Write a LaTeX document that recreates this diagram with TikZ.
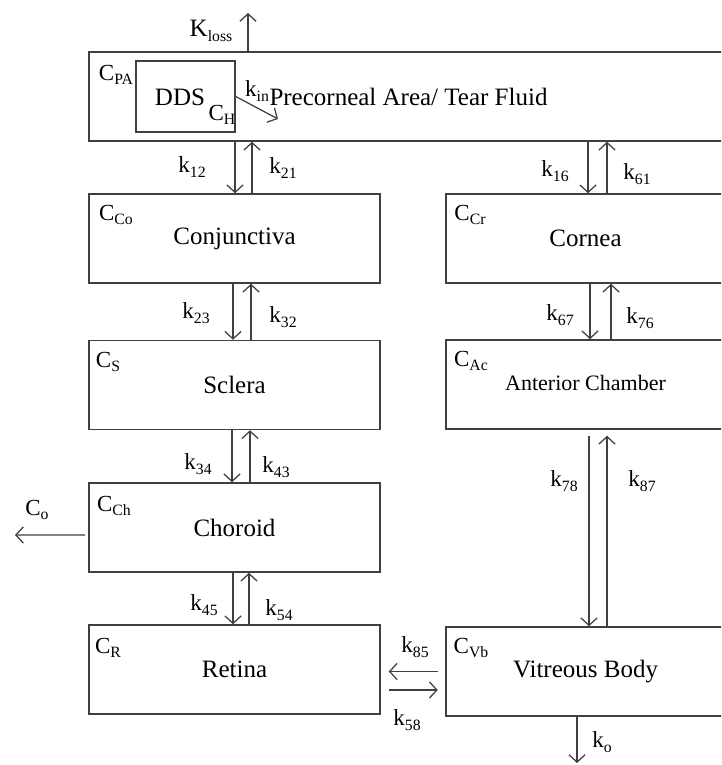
\documentclass[tikz,border=0pt]{standalone}
\usepackage{fontspec}
\setmainfont{Liberation Serif}
\newfontfamily\tnr{Liberation Serif}
\usetikzlibrary{arrows.meta,positioning,calc}
\definecolor{linec}{HTML}{404040}
\newcommand{\subtxt}[1]{\raisebox{-0.45ex}{\fontsize{6.3}{7}\selectfont #1}}
\tikzset{
  ar/.style={-{Straight Barb[length=3pt,width=6.5pt]},line width=0.5pt,linec},
  box/.style={draw=linec,line width=0.6pt,minimum width=116.4pt,minimum height=35.6pt,inner sep=0pt,font=\tnr\fontsize{10}{12}\selectfont},
  lab/.style={inner sep=0pt,font=\tnr\fontsize{9.2}{11}\selectfont}
}
\begin{document}
\begin{tikzpicture}[x=0.4pt,y=-0.4pt]
\clip (0,0) rectangle (721,765);
% compartments
\node[box,minimum width=254.4pt] (pa) at (407,96.5) {};
\node[box,minimum width=39.6pt,minimum height=28.4pt] (dds) at (185.5,96.5) {};
\node[box] (co) at (234.5,238.5) {Conjunctiva};
\node[box] (sc) at (234.5,385) {Sclera};
\node[box] (ch) at (234.5,527.5) {Choroid};
\node[box] (re) at (234.5,669.5) {Retina};
\node[box,minimum width=111.6pt] (cr) at (585.5,238.5) {Cornea};
\node[box,minimum width=111.6pt,font=\tnr\fontsize{8.8}{10}\selectfont] (ac) at (585.5,384.5) {\raisebox{1.2pt}{Anterior Chamber}};
\node[box,minimum width=111.6pt] (vb) at (585.5,671.5) {Vitreous Body};
% texts in the tear film box
\node[inner sep=0pt,font=\tnr\fontsize{10}{12}\selectfont] (ddst) at (180,97) {DDS};
\node[inner sep=0pt,font=\tnr\fontsize{10}{12}\selectfont,anchor=west] (pat) at (269,97) {Precorneal Area/ Tear Fluid};
% concentration labels
\node[lab] (cpa) at (116,75) {C\subtxt{PA}};
\node[lab] (ch2) at (222,115) {C\subtxt{H}};
\node[lab] (cco) at (116,215) {C\subtxt{Co}};
\node[lab] (cs) at (108,362) {C\subtxt{S}};
\node[lab] (cch) at (114,506) {C\subtxt{Ch}};
\node[lab] (cr2) at (108,648) {C\subtxt{R}};
\node[lab] (ccr) at (470,215) {C\subtxt{Cr}};
\node[lab] (cac) at (471,361) {C\subtxt{Ac}};
\node[lab] (cvb) at (471,648) {C\subtxt{Vb}};
% free ends
\coordinate (loss) at (248,13);
\coordinate (kinend) at (278,119);
\coordinate (cout) at (15,535);
\coordinate (koend) at (577,763);
% exchange arrows, left column
\draw[ar] ([xshift=0.2pt]co.north |- pa.south) -- ([xshift=0.2pt]co.north);
\draw[ar] ([xshift=7pt]co.north) -- ([xshift=7pt]co.north |- pa.south);
\draw[ar] ([xshift=-0.6pt]co.south) -- ([xshift=-0.6pt]sc.north);
\draw[ar] ([xshift=6.6pt]sc.north) -- ([xshift=6.6pt]co.south);
\draw[ar] ([xshift=-1pt]sc.south) -- ([xshift=-1pt]ch.north);
\draw[ar] ([xshift=6.2pt]ch.north) -- ([xshift=6.2pt]sc.south);
\draw[ar] ([xshift=-0.6pt]ch.south) -- ([xshift=-0.6pt]re.north);
\draw[ar] ([xshift=5.8pt]re.north) -- ([xshift=5.8pt]ch.south);
% exchange arrows, right column
\draw[ar] ([xshift=1pt]cr.north |- pa.south) -- ([xshift=1pt]cr.north);
\draw[ar] ([xshift=8.6pt]cr.north) -- ([xshift=8.6pt]cr.north |- pa.south);
\draw[ar] ([xshift=1.8pt]cr.south) -- ([xshift=1.8pt]ac.north);
\draw[ar] ([xshift=10.2pt]ac.north) -- ([xshift=10.2pt]cr.south);
\draw[ar] ([xshift=1.4pt,yshift=-2.4pt]ac.south) -- ([xshift=1.4pt]vb.north);
\draw[ar] ([xshift=8.6pt]vb.north) -- ([xshift=8.6pt,yshift=-2.4pt]ac.south);
% retina <-> vitreous
\draw[ar] ([xshift=-2.8pt]vb.west) -- ([xshift=3.2pt]re.east |- vb.west);
\draw[ar] ([xshift=3.2pt,yshift=-7.4pt]re.east |- vb.west) -- ([xshift=-3pt,yshift=-7.4pt]vb.west);
% losses
\draw[ar] (pa.north -| loss) -- (loss);
\draw[ar] (dds.east) -- (kinend);
\draw[ar] ([xshift=-1.2pt,yshift=-3pt]ch.west) -- (cout);
\draw[ar] (vb.south -| koend) -- (koend);
% rate constants
\node[lab,font=\tnr\fontsize{10}{12}\selectfont] (kloss) at (211,31) {K\subtxt{loss}};
\node[lab] (kin) at (257,91) {k\subtxt{in}};
\node[lab] (k12) at (192,167) {k\subtxt{12}};
\node[lab] (k21) at (283,168) {k\subtxt{21}};
\node[lab] (k23) at (196,313) {k\subtxt{23}};
\node[lab] (k32) at (283,317) {k\subtxt{32}};
\node[lab] (k34) at (198,464) {k\subtxt{34}};
\node[lab] (k43) at (276,467) {k\subtxt{43}};
\node[lab] (k45) at (204,605) {k\subtxt{45}};
\node[lab] (k54) at (279,610) {k\subtxt{54}};
\node[lab] (k16) at (555,171) {k\subtxt{16}};
\node[lab] (k61) at (637,174) {k\subtxt{61}};
\node[lab] (k67) at (560,315) {k\subtxt{67}};
\node[lab] (k76) at (640,318) {k\subtxt{76}};
\node[lab] (k78) at (564,481) {k\subtxt{78}};
\node[lab] (k87) at (642,481) {k\subtxt{87}};
\node[lab] (k85) at (415,647) {k\subtxt{85}};
\node[lab] (k58) at (407,720) {k\subtxt{58}};
\node[lab] (ko) at (602,742) {k\subtxt{o}};
\node[lab] (co2) at (37,510) {C\subtxt{o}};
\end{tikzpicture}
\end{document}
